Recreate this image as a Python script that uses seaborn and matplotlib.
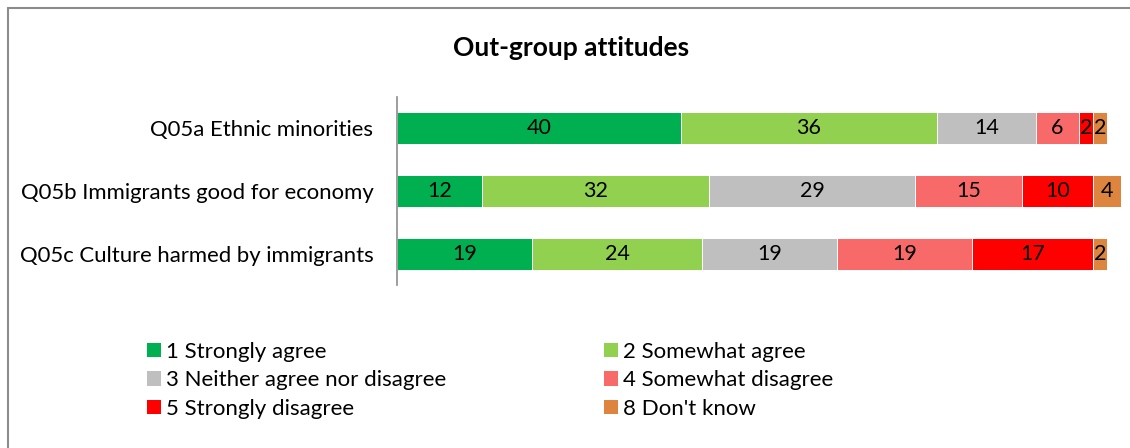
import numpy as np
import pandas as pd
import matplotlib
matplotlib.use("Agg")
import matplotlib.pyplot as plt
from matplotlib.patches import Patch
from matplotlib.lines import Line2D
import seaborn as sns

# Survey items and response shares (%)
questions = [
    "Q05a Ethnic minorities",
    "Q05b Immigrants good for economy",
    "Q05c Culture harmed by immigrants",
]
responses = [
    "1 Strongly agree",
    "2 Somewhat agree",
    "3 Neither agree nor disagree",
    "4 Somewhat disagree",
    "5 Strongly disagree",
    "8 Don't know",
]
strongly_agree = [40, 12, 19]
somewhat_agree = [36, 32, 24]
neither = [14, 29, 19]
somewhat_disagree = [6, 15, 19]
strongly_disagree = [2, 10, 17]
dont_know = [2, 4, 2]

colors = ["#00B050", "#92D050", "#BFBFBF", "#F86A6A", "#FF0000", "#DD843F"]

sns.set_theme(style="white")
plt.rcParams["font.family"] = ["Lato", "DejaVu Sans"]

df = pd.DataFrame(
    {
        "question": questions,
        responses[0]: strongly_agree,
        responses[1]: somewhat_agree,
        responses[2]: neither,
        responses[3]: somewhat_disagree,
        responses[4]: strongly_disagree,
        responses[5]: dont_know,
    }
)
cum = df[responses].cumsum(axis=1)

fig = plt.figure(figsize=(11.3, 4.48), dpi=100)
ax = fig.add_axes([397 / 1130, 1 - 285 / 448, (1121.2 - 397) / 1130, 188 / 448])

# Stack by drawing cumulative totals from the outermost segment inward
for resp, col in reversed(list(zip(responses, colors))):
    sns.barplot(
        x=cum[resp],
        y=df["question"],
        orient="h",
        color=col,
        saturation=1,
        width=0.51,
        edgecolor="white",
        linewidth=0.7,
        ax=ax,
    )

# Segment value labels
for i, q in enumerate(questions):
    for resp in responses:
        v = df.loc[i, resp]
        center = cum.loc[i, resp] - v / 2
        ax.text(center, i, f"{v:g}", ha="center", va="center",
                fontsize=15.5, color="black")

ax.set_xlim(0, 102)
ax.set_ylim(2.5, -0.5)
ax.set_xlabel("")
ax.set_ylabel("")
ax.set_xticks([])
ax.tick_params(axis="y", length=0, pad=17, labelsize=15.9, labelcolor="black")
for s in ["top", "right", "bottom"]:
    ax.spines[s].set_visible(False)
ax.spines["left"].set_color("#8C8C8C")
ax.spines["left"].set_linewidth(1.2)

fig.text(571 / 1130, 1 - 48 / 448, "Out-group attitudes", ha="center",
         va="center", fontsize=19, fontweight="bold", color="black")

# Legend laid out row by row in two columns
order = [0, 2, 4, 1, 3, 5]
handles = [Patch(facecolor=colors[k], edgecolor="none", label=responses[k]) for k in order]
fig.legend(
    handles=handles,
    ncol=2,
    loc="upper left",
    bbox_to_anchor=(147 / 1130, 1 - 342 / 448),
    frameon=False,
    fontsize=16,
    labelcolor="black",
    handlelength=0.63,
    handleheight=0.63,
    handletextpad=0.22,
    columnspacing=7.1,
    labelspacing=0.38,
    borderaxespad=0,
    borderpad=0,
)

# Chart frame
fig.add_artist(Line2D([7.5 / 1130, 7.5 / 1130], [0, 1 - 8.5 / 448],
                      transform=fig.transFigure, color="#8C8C8C", lw=1.5))
fig.add_artist(Line2D([7.5 / 1130, 1], [1 - 8.5 / 448, 1 - 8.5 / 448],
                      transform=fig.transFigure, color="#8C8C8C", lw=1.5))

fig.savefig("out.png", dpi=100)
